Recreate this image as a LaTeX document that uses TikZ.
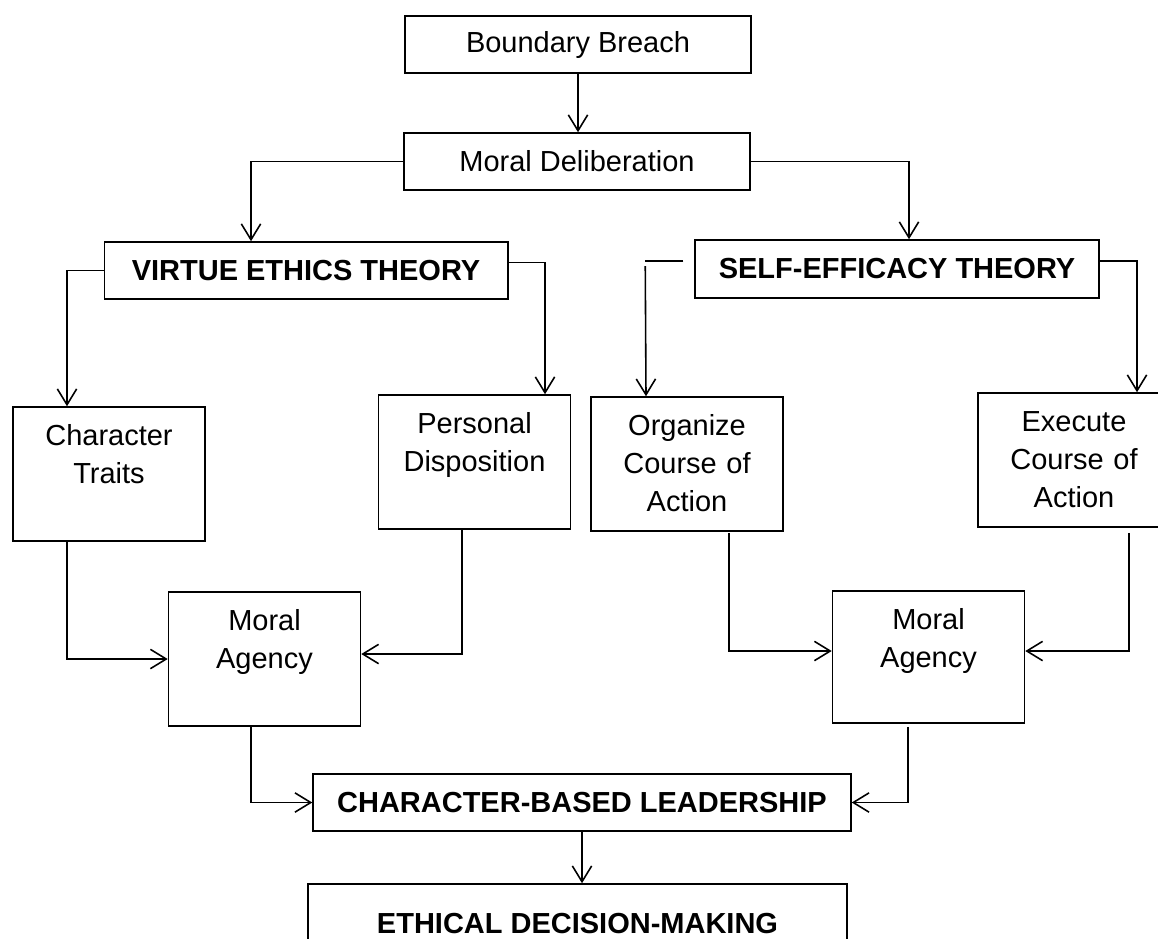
\documentclass[tikz,border=0pt]{standalone}
\usepackage{fontspec}
\setmainfont{Liberation Sans}
\usetikzlibrary{arrows.meta,calc}

\tikzset{
  box/.style={draw, line width=0.9pt, minimum height=1.14cm, inner sep=0pt,
    font=\fontsize{16.5pt}{21.9pt}\selectfont},
  headbox/.style={box, font=\fontsize{16.5pt}{21.9pt}\selectfont\bfseries},
  tallbox/.style={box, minimum width=3.84cm, text width=3.6cm, align=center,
    text height=0.76cm, text depth=1.92cm},
  arr/.style={line width=0.9pt, -{Straight Barb[length=9pt,width=11pt]}},
  link/.style={line width=0.9pt},
}

\begin{document}
\begin{tikzpicture}[x=0.02cm, y=-0.02cm]
        \useasboundingbox (0,0) rectangle (1158,938);
        \clip (0,0) rectangle (1158,938);
        % boxes
        \node[box, minimum width=6.92cm] (breach) at (578,44.5) {Boundary Breach};
        \node[box, minimum width=6.92cm] (delib) at (577,161.5) {Moral Deliberation};
        \node[headbox, minimum width=8.07cm] (virtue) at (306,270.5) {VIRTUE ETHICS THEORY};
        \node[headbox, minimum width=8.08cm, minimum height=1.16cm] (selfeff) at (897,269) {SELF-EFFICACY THEORY};
        \node[tallbox] (traits) at (109,474) {Character\\Traits};
        \node[tallbox] (dispo) at (474.5,462) {Personal\\Disposition};
        \node[tallbox] (organize) at (687,464) {Organize\\Course of\\Action};
        \node[tallbox] (execute) at (1074,460) {Execute\\Course of\\Action};
        \node[tallbox] (moral1) at (264.5,659) {Moral\\Agency};
        \node[tallbox, text depth=1.88cm] (moral2) at (928.5,657) {Moral\\Agency};
        \node[headbox, minimum width=10.76cm] (cbl) at (582,802.5) {CHARACTER-BASED LEADERSHIP};
        \node[headbox, minimum width=10.78cm, minimum height=1.56cm] (edm) at (577.5,923) {ETHICAL DECISION-MAKING};
        % connectors
        \draw[arr] (breach.south) -- (breach.south |- delib.north);
        \draw[arr] (delib.west) -| ($(virtue.north)+(-55,0)$);
        \draw[arr] (delib.east) -| ($(selfeff.north)+(12,0)$);
        \draw[arr] (virtue.west) -| ($(traits.north)+(-42,0)$);
        \draw[arr] ($(virtue.east)+(0,-8)$) -| ($(dispo.north)+(70.5,0)$);
        \draw[link] ($(selfeff.west)+(-11,-8)$) -- ++(-38,0);
        \draw[arr] ($(selfeff.west)+(-49,-3)$) -- ($(organize.north)+(-41,0)$);
        \draw[arr] ($(selfeff.east)+(0,-8)$) -| ($(execute.north)+(63,0)$);
        \draw[arr] ($(traits.south)+(-42,0)$) |- (moral1.west);
        \draw[arr] ($(dispo.south)+(-12.5,0)$) |- ($(moral1.east)+(0,-5)$);
        \draw[arr] ($(organize.south)+(42,1)$) |- ($(moral2.west)+(0,-6)$);
        \draw[arr] ($(execute.south)+(55,5)$) |- ($(moral2.east)+(0,-6)$);
        \draw[arr] ($(moral1.south)+(-13.5,0)$) |- (cbl.west);
        \draw[arr] ($(moral2.south)+(-20.5,3)$) |- (cbl.east);
        \draw[arr] (cbl.south) -- (cbl.south |- edm.north);
    \end{tikzpicture}
\end{document}
